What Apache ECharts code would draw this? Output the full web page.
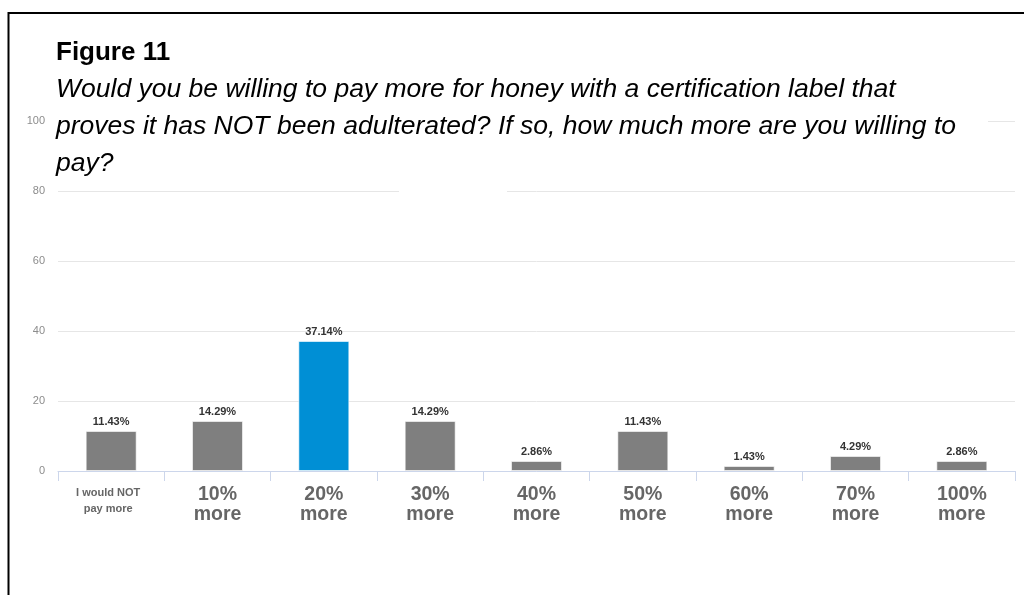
<!DOCTYPE html>
<html>
<head>
<meta charset="utf-8">
<script src="https://cdn.jsdelivr.net/npm/echarts@6/dist/echarts.min.js"></script>
<style>
  html, body { margin: 0; padding: 0; background: #ffffff; }
  #chart { width: 1024px; height: 595px; }
</style>
</head>
<body>
<div id="chart"></div>
<script>
// Survey answers: extra price respondents would pay for certified honey
const categories = ['I would NOT pay more', '10%', '20%', '30%', '40%', '50%', '60%', '70%', '100%'];
const shares = [11.43, 14.29, 37.14, 14.29, 2.86, 11.43, 1.43, 4.29, 2.86];
const highlighted = '20%';
const yTicks = { min: 0, max: 100, step: 20 };

const titleText = 'Figure 11';
const questionText = 'Would you be willing to pay more for honey with a certification label that\nproves it has NOT been adulterated? If so, how much more are you willing to\npay?';

const GRAY = '#7f7f7f';
const BLUE = '#008fd5';
const FONT = 'Liberation Sans, Arial, sans-serif';

const chart = echarts.init(document.getElementById('chart'), null, { renderer: 'canvas' });

chart.setOption({
  backgroundColor: '#ffffff',
  animation: false,
  title: [
    {
      text: titleText,
      left: 51, top: 35,
      z: 10,
      textStyle: { fontFamily: FONT, fontSize: 26, fontWeight: 'bold', color: '#000000' }
    },
    {
      text: questionText,
      left: 51, top: 66,
      z: 10,
      textStyle: { fontFamily: FONT, fontSize: 26.5, fontStyle: 'italic', fontWeight: 'normal', color: '#000000', lineHeight: 37 }
    }
  ],
  graphic: [
    // outer frame
    { type: 'rect', left: 6, top: 10.5, z: 20, silent: true,
      shape: { width: 1030, height: 600 },
      style: { fill: 'none', stroke: '#000000', lineWidth: 2 } },
    // panel behind the heading
    { type: 'rect', left: 50, top: 28, z: 5, silent: true,
      shape: { width: 938, height: 150 },
      style: { fill: '#ffffff' } },
    { type: 'rect', left: 399, top: 189, z: 5, silent: true,
      shape: { width: 108, height: 4 },
      style: { fill: '#ffffff' } }
  ],
  grid: { left: 58, right: 9, top: 121, bottom: 124, containLabel: false },
  xAxis: {
    type: 'category',
    data: categories,
    axisLine: { lineStyle: { color: '#ccd6eb', width: 1 } },
    axisTick: { show: true, length: 10, alignWithLabel: false, lineStyle: { color: '#ccd6eb' } },
    axisLabel: {
      interval: 0,
      margin: 14,
      formatter: function (v, i) {
        if (i === 0) return '{s|I would NOT}\n{s|pay more}';
        return '{b|' + v + '}\n{b|more}';
      },
      rich: {
        s: { fontFamily: FONT, fontSize: 11, fontWeight: 'bold', color: '#666666', lineHeight: 16, padding: [0, 6, 0, 0] },
        b: { fontFamily: FONT, fontSize: 19.5, fontWeight: 'bold', color: '#666666', lineHeight: 19.5 }
      }
    }
  },
  yAxis: {
    type: 'value',
    min: yTicks.min, max: yTicks.max, interval: yTicks.step,
    axisLine: { show: false },
    axisTick: { show: false },
    axisLabel: { margin: 13, fontFamily: FONT, fontSize: 11, color: '#8c8c8c' },
    splitLine: { lineStyle: { color: '#e6e6e6', width: 1 } }
  },
  series: [{
    type: 'bar',
    barWidth: 51,
    data: shares.map(function (v, i) {
      return { value: v, itemStyle: { color: categories[i] === highlighted ? BLUE : GRAY } };
    }),
    itemStyle: { borderColor: 'rgba(255,255,255,0.6)', borderWidth: 1 },
    label: {
      show: true,
      position: 'top',
      distance: 4,
      formatter: function (p) { return p.value.toFixed(2) + '%'; },
      fontFamily: FONT,
      fontSize: 11,
      fontWeight: 'bold',
      color: '#333333'
    }
  }]
});
</script>
</body>
</html>
